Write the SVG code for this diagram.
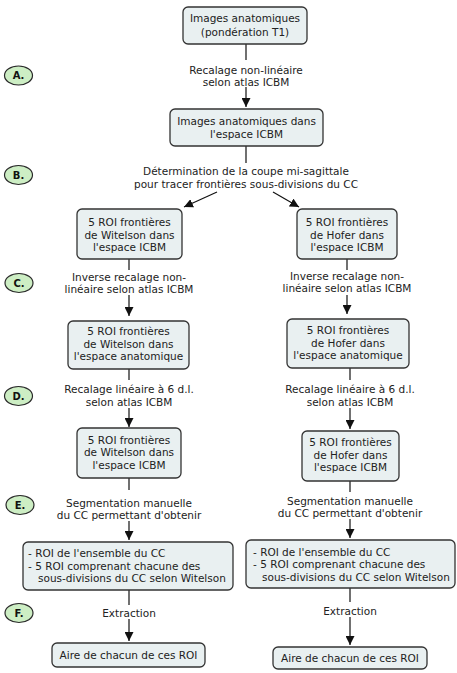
<svg xmlns="http://www.w3.org/2000/svg" width="457" height="673" viewBox="0 0 457 673">
<style>
.box{fill:#e9f0f1;stroke:#333;stroke-width:1.3}
.step{fill:#cdeec4;stroke:#2a2a2a;stroke-width:1.2}
.t{font-family:"DejaVu Sans",Verdana,sans-serif;font-size:10.5px;fill:#222;text-anchor:middle}
.tl{font-family:"DejaVu Sans",Verdana,sans-serif;font-size:10.5px;fill:#222}
.s{font-family:"DejaVu Sans",Verdana,sans-serif;font-size:10px;font-weight:bold;fill:#111;text-anchor:middle}
.c{stroke:#111;stroke-width:1.2;fill:none}
</style>
<defs>
<marker id="ah" viewBox="0 0 10 10" refX="10" refY="5" markerWidth="9" markerHeight="9" markerUnits="userSpaceOnUse" orient="auto">
<path d="M0,0 L10,5 L0,10 z" fill="#111"/>
</marker>
</defs>
<rect width="457" height="673" fill="#fff"/>

<g id="steps">
<g id="stepA"><ellipse class="step" cx="18.5" cy="75.5" rx="14" ry="9.5"/><text class="s" x="18.5" y="79">A.</text></g>
<g id="stepB"><ellipse class="step" cx="18.5" cy="175" rx="14" ry="9.5"/><text class="s" x="18.5" y="178.5">B.</text></g>
<g id="stepC"><ellipse class="step" cx="19" cy="283" rx="14" ry="9.5"/><text class="s" x="19" y="286.5">C.</text></g>
<g id="stepD"><ellipse class="step" cx="18.5" cy="396" rx="14" ry="9.5"/><text class="s" x="18.5" y="399.5">D.</text></g>
<g id="stepE"><ellipse class="step" cx="20" cy="505" rx="14" ry="9.5"/><text class="s" x="20" y="508.5">E.</text></g>
<g id="stepF"><ellipse class="step" cx="19" cy="613" rx="14" ry="9.5"/><text class="s" x="19" y="616.5">F.</text></g>
</g>

<g id="connectors">
<line class="c" x1="246" y1="44" x2="246" y2="60"/>
<line class="c" x1="246" y1="87" x2="246" y2="107" marker-end="url(#ah)"/>
<line class="c" x1="246" y1="146" x2="246" y2="163"/>
<line class="c" x1="217" y1="192" x2="184" y2="207" marker-end="url(#ah)"/>
<line class="c" x1="273" y1="192" x2="299" y2="207" marker-end="url(#ah)"/>
<line class="c" x1="129" y1="259" x2="129" y2="270"/>
<line class="c" x1="129" y1="295" x2="129" y2="316" marker-end="url(#ah)"/>
<line class="c" x1="347" y1="259" x2="347" y2="270"/>
<line class="c" x1="347" y1="295" x2="347" y2="314" marker-end="url(#ah)"/>
<line class="c" x1="129" y1="369" x2="129" y2="380"/>
<line class="c" x1="129" y1="408" x2="129" y2="427" marker-end="url(#ah)"/>
<line class="c" x1="350" y1="368" x2="350" y2="380"/>
<line class="c" x1="350" y1="408" x2="350" y2="429" marker-end="url(#ah)"/>
<line class="c" x1="129" y1="478" x2="129" y2="490"/>
<line class="c" x1="129" y1="521" x2="129" y2="540" marker-end="url(#ah)"/>
<line class="c" x1="350" y1="481" x2="350" y2="492"/>
<line class="c" x1="350" y1="519" x2="350" y2="538" marker-end="url(#ah)"/>
<line class="c" x1="129" y1="590" x2="129" y2="605"/>
<line class="c" x1="129" y1="619" x2="129" y2="641" marker-end="url(#ah)"/>
<line class="c" x1="350" y1="588" x2="350" y2="602"/>
<line class="c" x1="350" y1="617" x2="350" y2="645" marker-end="url(#ah)"/>
</g>

<g id="labels">
<text class="t" x="246" y="73.5">Recalage non-linéaire</text>
<text class="t" x="246" y="86">selon atlas ICBM</text>
<text class="t" x="246" y="174.5">Détermination de la coupe mi-sagittale</text>
<text class="t" x="246" y="187.5">pour tracer frontières sous-divisions du CC</text>
<text class="t" x="129" y="280.5">Inverse recalage non-</text>
<text class="t" x="129" y="292.5">linéaire selon atlas ICBM</text>
<text class="t" x="347" y="279.5">Inverse recalage non-</text>
<text class="t" x="347" y="291.5">linéaire selon atlas ICBM</text>
<text class="t" x="129" y="393">Recalage linéaire à 6 d.l.</text>
<text class="t" x="129" y="405.5">selon atlas ICBM</text>
<text class="t" x="350" y="393">Recalage linéaire à 6 d.l.</text>
<text class="t" x="350" y="405.5">selon atlas ICBM</text>
<text class="t" x="129" y="507">Segmentation manuelle</text>
<text class="t" x="129" y="519">du CC permettant d'obtenir</text>
<text class="t" x="350" y="504.5">Segmentation manuelle</text>
<text class="t" x="350" y="517">du CC permettant d'obtenir</text>
<text class="t" x="129" y="617">Extraction</text>
<text class="t" x="350" y="614.5">Extraction</text>
</g>

<g id="n1"><rect class="box" x="183" y="7" width="124" height="37" rx="5"/>
<text class="t" x="245" y="22">Images anatomiques</text><text class="t" x="245" y="35.5">(pondération T1)</text></g>
<g id="n2"><rect class="box" x="170" y="109" width="153" height="37" rx="5"/>
<text class="t" x="246.5" y="125">Images anatomiques dans</text><text class="t" x="246.5" y="138">l'espace ICBM</text></g>

<g id="w1"><rect class="box" x="77" y="209" width="105" height="50" rx="5"/>
<text class="t" x="129.5" y="226">5 ROI frontières</text><text class="t" x="129.5" y="238.5">de Witelson dans</text><text class="t" x="129.5" y="251">l'espace ICBM</text></g>
<g id="h1"><rect class="box" x="297" y="209" width="100" height="50" rx="5"/>
<text class="t" x="347" y="226">5 ROI frontières</text><text class="t" x="347" y="238.5">de Hofer dans</text><text class="t" x="347" y="251">l'espace ICBM</text></g>

<g id="w2"><rect class="box" x="68" y="321" width="121" height="48" rx="5"/>
<text class="t" x="128.5" y="335">5 ROI frontières</text><text class="t" x="128.5" y="347.5">de Witelson dans</text><text class="t" x="128.5" y="360">l'espace anatomique</text></g>
<g id="h2"><rect class="box" x="287" y="319" width="122" height="49" rx="5"/>
<text class="t" x="348" y="334">5 ROI frontières</text><text class="t" x="348" y="346.5">de Hofer dans</text><text class="t" x="348" y="359">l'espace anatomique</text></g>

<g id="w3"><rect class="box" x="77" y="428" width="104" height="50" rx="5"/>
<text class="t" x="129" y="443.5">5 ROI frontières</text><text class="t" x="129" y="456">de Witelson dans</text><text class="t" x="129" y="469">l'espace ICBM</text></g>
<g id="h3"><rect class="box" x="302" y="431" width="97" height="50" rx="5"/>
<text class="t" x="350.5" y="446">5 ROI frontières</text><text class="t" x="350.5" y="458.5">de Hofer dans</text><text class="t" x="350.5" y="471">l'espace ICBM</text></g>

<g id="w4"><rect class="box" x="23" y="542" width="210" height="48" rx="5"/>
<text class="tl" x="28" y="557">- ROI de l'ensemble du CC</text><text class="tl" x="28" y="569.5">- 5 ROI comprenant chacune des</text><text class="tl" x="38" y="582">sous-divisions du CC selon Witelson</text></g>
<g id="h4"><rect class="box" x="246" y="540" width="209" height="48" rx="5"/>
<text class="tl" x="253" y="555.5">- ROI de l'ensemble du CC</text><text class="tl" x="253" y="568">- 5 ROI comprenant chacune des</text><text class="tl" x="262" y="580.5">sous-divisions du CC selon Witelson</text></g>

<g id="w5"><rect class="box" x="52" y="643" width="153" height="24" rx="5"/>
<text class="t" x="128.5" y="659">Aire de chacun de ces ROI</text></g>
<g id="h5"><rect class="box" x="273" y="647" width="154" height="22" rx="5"/>
<text class="t" x="350" y="662">Aire de chacun de ces ROI</text></g>
</svg>
